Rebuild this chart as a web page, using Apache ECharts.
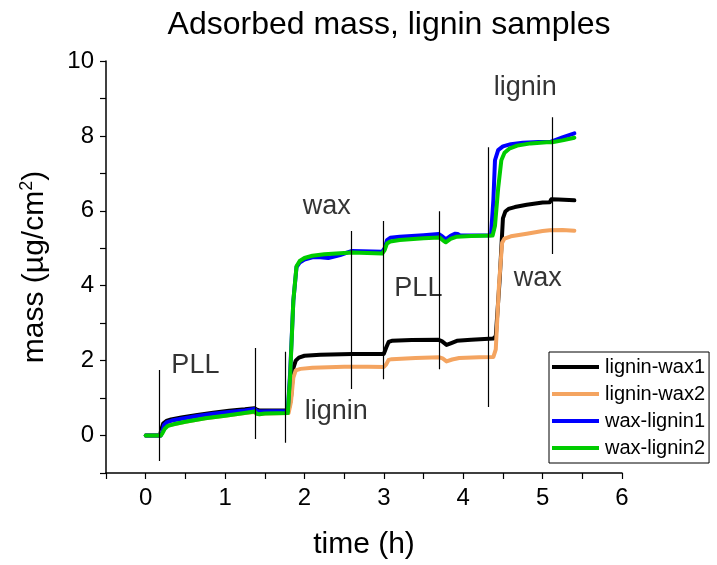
<!DOCTYPE html>
<html>
<head>
<meta charset="utf-8">
<script src="https://cdn.jsdelivr.net/npm/echarts@6/dist/echarts.min.js"></script>
<style>
html,body{margin:0;padding:0;background:#fff;}
#chart{width:717px;height:565px;}
</style>
</head>
<body>
<div id="chart"></div>
<script>
// ---- data ----
const seriesNames = ['lignin-wax1', 'lignin-wax2', 'wax-lignin1', 'wax-lignin2'];

const blackT = [0, 0.18, 0.20, 0.22, 0.26, 0.32, 0.45, 0.65, 0.85, 1.05, 1.25, 1.37, 1.40, 1.43, 1.60, 1.80, 1.83, 1.86, 1.89, 1.93, 2.00, 2.20, 2.60, 3.00, 3.03, 3.06, 3.10, 3.35, 3.68, 3.73, 3.79, 3.85, 3.92, 4.10, 4.38, 4.41, 4.46, 4.50, 4.53, 4.57, 4.65, 4.80, 5.00, 5.09, 5.11, 5.20, 5.40];
const blackV = [0, 0, 0.18, 0.32, 0.39, 0.43, 0.48, 0.55, 0.61, 0.66, 0.70, 0.73, 0.69, 0.67, 0.67, 0.67, 1.0, 1.8, 2.0, 2.08, 2.13, 2.16, 2.18, 2.18, 2.35, 2.50, 2.53, 2.55, 2.56, 2.52, 2.42, 2.47, 2.53, 2.56, 2.59, 2.65, 4.2, 5.8, 5.98, 6.05, 6.10, 6.16, 6.22, 6.23, 6.31, 6.30, 6.28];

const orangeT = [0, 0.18, 0.20, 0.23, 0.27, 0.35, 0.50, 0.75, 1.00, 1.20, 1.37, 1.40, 1.43, 1.50, 1.80, 1.83, 1.86, 1.89, 1.95, 2.10, 2.50, 2.80, 3.00, 3.03, 3.06, 3.10, 3.40, 3.70, 3.74, 3.79, 3.86, 3.95, 4.20, 4.38, 4.41, 4.45, 4.49, 4.52, 4.60, 4.80, 5.00, 5.09, 5.11, 5.25, 5.40];
const orangeV = [0, 0, 0.05, 0.18, 0.26, 0.30, 0.37, 0.46, 0.53, 0.59, 0.63, 0.59, 0.57, 0.59, 0.60, 0.9, 1.55, 1.74, 1.78, 1.81, 1.84, 1.84, 1.83, 1.90, 2.02, 2.04, 2.07, 2.09, 2.06, 1.98, 2.03, 2.07, 2.09, 2.10, 2.3, 4.0, 5.15, 5.26, 5.32, 5.39, 5.46, 5.48, 5.53, 5.49, 5.47];

const blueT = [0, 0.19, 0.21, 0.23, 0.27, 0.33, 0.45, 0.65, 0.85, 1.05, 1.25, 1.37, 1.40, 1.43, 1.60, 1.79, 1.82, 1.86, 1.90, 1.94, 2.00, 2.10, 2.20, 2.30, 2.45, 2.60, 2.98, 3.01, 3.04, 3.08, 3.20, 3.50, 3.69, 3.73, 3.78, 3.84, 3.90, 3.93, 3.96, 4.10, 4.35, 4.38, 4.40, 4.44, 4.50, 4.60, 4.75, 4.95, 5.10, 5.15, 5.25, 5.40];
const blueV = [0, 0, 0.10, 0.28, 0.36, 0.40, 0.45, 0.52, 0.58, 0.63, 0.67, 0.71, 0.66, 0.64, 0.65, 0.65, 1.7, 3.6, 4.50, 4.62, 4.70, 4.76, 4.76, 4.74, 4.82, 4.93, 4.91, 5.0, 5.22, 5.28, 5.31, 5.35, 5.38, 5.33, 5.24, 5.33, 5.39, 5.38, 5.34, 5.34, 5.35, 6.3, 7.35, 7.62, 7.72, 7.78, 7.82, 7.84, 7.84, 7.88, 7.96, 8.07];

const greenT = [0, 0.19, 0.21, 0.24, 0.28, 0.35, 0.50, 0.75, 1.00, 1.20, 1.37, 1.40, 1.43, 1.50, 1.79, 1.82, 1.86, 1.90, 1.94, 2.00, 2.10, 2.25, 2.60, 2.98, 3.01, 3.04, 3.08, 3.20, 3.50, 3.70, 3.74, 3.78, 3.84, 3.92, 4.10, 4.37, 4.40, 4.44, 4.48, 4.52, 4.58, 4.68, 4.85, 5.05, 5.12, 5.25, 5.40];
const greenV = [0, 0, 0.06, 0.18, 0.26, 0.30, 0.37, 0.46, 0.53, 0.59, 0.64, 0.58, 0.57, 0.59, 0.60, 1.6, 3.6, 4.52, 4.66, 4.74, 4.80, 4.84, 4.89, 4.86, 4.95, 5.13, 5.18, 5.22, 5.27, 5.29, 5.22, 5.16, 5.25, 5.31, 5.33, 5.34, 5.6, 6.6, 7.35, 7.55, 7.66, 7.74, 7.80, 7.83, 7.83, 7.88, 7.95];

// injection markers (vertical lines)
const markerT  = [0.165, 1.378, 1.757, 2.587, 2.996, 3.70, 4.309, 5.117];
const markerLo = [-0.68, -0.09, -0.19, 1.24, 1.50, 1.77, 0.76, 4.85];
const markerHi = [1.75, 2.34, 2.24, 5.46, 5.73, 5.99, 7.70, 8.50];

// annotation texts
const noteText = ['PLL', 'lignin', 'wax', 'PLL', 'lignin', 'wax'];
const noteT    = [0.626, 2.40, 2.28, 3.435, 4.78, 4.94];
const noteV    = [1.86, 0.64, 6.11, 3.93, 9.30, 4.20];

// axis ticks
const xTickLabels = [0, 1, 2, 3, 4, 5, 6];
const yTickLabels = [0, 2, 4, 6, 8, 10];

// ---- build ----
const FONT = 'Liberation Sans, Arial, Helvetica, sans-serif';
const colors = ['#000000', '#F4A460', '#0000FF', '#00CC00'];
const seriesT = [blackT, orangeT, blueT, greenT];
const seriesV = [blackV, orangeV, blueV, greenV];

const lineSeries = seriesNames.map((name, i) => ({
  name: name,
  type: 'line',
  showSymbol: false,
  symbol: 'none',
  lineStyle: { color: colors[i], width: 4, join: 'round', cap: 'round' },
  itemStyle: { color: colors[i] },
  data: seriesT[i].map((t, k) => [t, seriesV[i][k]]),
  z: 2 + i
}));

const markerSeries = {
  type: 'lines',
  coordinateSystem: 'cartesian2d',
  silent: true,
  z: 10,
  lineStyle: { color: '#000', width: 1.2, opacity: 1 },
  data: markerT.map((t, i) => ({ coords: [[t, markerLo[i]], [t, markerHi[i]]] }))
};

const noteSeries = {
  type: 'scatter',
  silent: true,
  symbolSize: 1,
  itemStyle: { color: 'rgba(0,0,0,0)' },
  z: 11,
  label: {
    show: true,
    position: 'inside',
    formatter: p => p.name,
    color: '#000',
    fontSize: 27,
    fontFamily: FONT
  },
  data: noteT.map((t, i) => ({ name: noteText[i], value: [t, noteV[i]] }))
};

const chart = echarts.init(document.getElementById('chart'), null, { renderer: 'canvas' });
chart.setOption({
  animation: false,
  backgroundColor: '#fff',
  title: {
    text: 'Adsorbed mass, lignin samples',
    left: 384,
    top: 4,
    textAlign: 'center',
    textStyle: { fontSize: 32, fontWeight: 'normal', color: '#000', fontFamily: FONT }
  },
  legend: {
    data: seriesNames,
    orient: 'vertical',
    left: 549,
    top: 352,
    icon: 'rect',
    itemWidth: 47,
    itemHeight: 4,
    itemGap: 7,
    padding: [5, 4, 5, 3],
    borderColor: '#000',
    borderWidth: 1,
    backgroundColor: '#fff',
    textStyle: { fontSize: 20, color: '#000', fontFamily: FONT, padding: [0, 0, 0, 1] }
  },
  grid: { left: 106, right: 95, top: 61, bottom: 90, containLabel: false },
  xAxis: {
    type: 'value',
    min: -0.5,
    max: 6,
    interval: 0.5,
    name: 'time (h)',
    nameLocation: 'middle',
    nameGap: 57,
    nameTextStyle: { fontSize: 30, color: '#000', fontFamily: FONT },
    splitLine: { show: false },
    axisLine: { onZero: false, lineStyle: { color: '#000', width: 1.5 } },
    axisTick: { length: 6, lineStyle: { color: '#000', width: 1.2 } },
    axisLabel: {
      fontSize: 24, color: '#000', fontFamily: FONT, margin: 13,
      formatter: v => (xTickLabels.indexOf(v) >= 0 ? String(v) : '')
    }
  },
  yAxis: {
    type: 'value',
    min: -1,
    max: 10,
    interval: 1,
    name: 'mass (µg/cm{sup|2})',
    nameLocation: 'middle',
    nameRotate: 90,
    nameGap: 55,
    nameTextStyle: {
      fontSize: 30, color: '#000', fontFamily: FONT,
      rich: { sup: { fontSize: 18, color: '#000', fontFamily: FONT, verticalAlign: 'top', padding: [0, 0, 15, 0] } }
    },
    splitLine: { show: false },
    axisLine: { show: true, onZero: false, lineStyle: { color: '#000', width: 1.5 } },
    axisTick: { show: true, length: 6, lineStyle: { color: '#000', width: 1.2 } },
    axisLabel: {
      fontSize: 24, color: '#000', fontFamily: FONT, margin: 12,
      formatter: v => (yTickLabels.indexOf(v) >= 0 ? String(v) : '')
    }
  },
  series: lineSeries.concat([markerSeries, noteSeries])
});
</script>
</body>
</html>
